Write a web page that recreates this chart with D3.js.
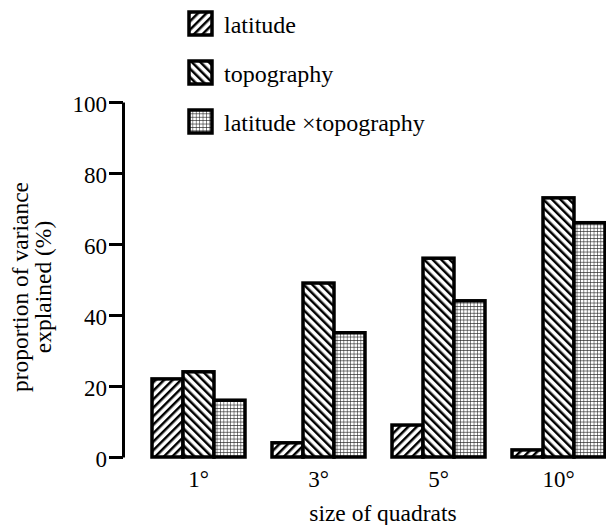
<!DOCTYPE html>
<html lang="en">
<head>
<meta charset="UTF-8">
<title>variance by quadrat size</title>
<style>
  body { margin: 0; background: #fff; }
</style>
</head>
<body>
<svg width="606" height="525"></svg>
<script src="https://d3js.org/d3.v7.min.js"></script>
<script>
// data
var categories = ['1°', '3°', '5°', '10°'];
var seriesNames = ['latitude', 'topography', 'latitude ×topography'];
var latitude = [22, 4, 9, 2];
var topography = [24, 49, 56, 73];
var interaction = [16, 35, 44, 66];
var yTicks = [0, 20, 40, 60, 80, 100];

var seriesValues = [latitude, topography, interaction];
var patternIds = ['pLat', 'pTopo', 'pGrid'];
var serif = 'Liberation Serif, Times New Roman, DejaVu Serif, serif';
var fs = 23;

const svg = d3.select('svg');

// hatch patterns
const defs = svg.append('defs');
function stripes(id, angle) {
  const p = defs.append('pattern')
    .attr('id', id)
    .attr('patternUnits', 'userSpaceOnUse')
    .attr('width', 6).attr('height', 6)
    .attr('patternTransform', `rotate(${angle})`);
  p.append('rect').attr('width', 6).attr('height', 6).attr('fill', '#fff');
  p.append('line').attr('x1', 0).attr('y1', 0).attr('x2', 0).attr('y2', 6)
    .attr('stroke', '#000').attr('stroke-width', 5);
}
stripes('pLat', 45);
stripes('pTopo', -45);
const grid = defs.append('pattern')
  .attr('id', 'pGrid')
  .attr('patternUnits', 'userSpaceOnUse')
  .attr('width', 3.4).attr('height', 3.4);
grid.append('rect').attr('width', 3.4).attr('height', 3.4).attr('fill', '#fff');
grid.append('path').attr('d', 'M0,0V3.4M0,0H3.4')
  .attr('stroke', '#222').attr('stroke-width', 1.1);

const x0 = d3.scaleBand()
  .domain(categories)
  .range([138.5, 618.5])
  .paddingInner(0.225)
  .paddingOuter(0.1125);

const x1 = d3.scaleBand()
  .domain(d3.range(seriesNames.length))
  .range([0, x0.bandwidth()]);

const y = d3.scaleLinear()
  .domain([0, 100])
  .range([457, 102]);

// bars
const groups = svg.append('g').selectAll('g')
  .data(categories)
  .join('g')
  .attr('transform', d => `translate(${x0(d)},0)`);

groups.selectAll('rect')
  .data((d, i) => seriesValues.map((s, k) => ({k: k, v: s[i]})))
  .join('rect')
  .attr('x', d => x1(d.k))
  .attr('width', x1.bandwidth())
  .attr('y', d => y(d.v))
  .attr('height', d => y(0) - y(d.v))
  .attr('fill', d => `url(#${patternIds[d.k]})`)
  .attr('stroke', '#000')
  .attr('stroke-width', 3.5);

// y axis
const yAxis = d3.axisLeft(y)
  .tickValues(yTicks)
  .tickSize(14)
  .tickSizeOuter(0)
  .tickPadding(2);

const yg = svg.append('g')
  .attr('transform', 'translate(123,0)')
  .call(yAxis)
  .attr('font-family', serif)
  .attr('font-size', fs);
yg.select('.domain').attr('stroke-width', 3);
yg.selectAll('.tick line').attr('stroke-width', 3);
yg.selectAll('.tick text').attr('dy', '0.4em');

// x axis (labels only)
const xAxis = d3.axisBottom(x0).tickSize(0).tickPadding(12);
const xg = svg.append('g')
  .attr('transform', 'translate(0,459)')
  .call(xAxis)
  .attr('font-family', serif)
  .attr('font-size', fs);
xg.select('.domain').remove();

// axis titles
svg.append('text')
  .attr('x', 383).attr('y', 521)
  .attr('text-anchor', 'middle')
  .attr('font-family', serif)
  .attr('font-size', 23.5)
  .text('size of quadrats');

const yt = svg.append('text')
  .attr('transform', 'translate(0,287) rotate(-90)')
  .attr('text-anchor', 'middle')
  .attr('font-family', serif)
  .attr('font-size', 23.5);
yt.append('tspan').attr('x', 0).attr('y', 28).text('proportion of variance');
yt.append('tspan').attr('x', 0).attr('y', 51).text('explained (%)');

// legend
const legend = svg.append('g').selectAll('g')
  .data(seriesNames)
  .join('g')
  .attr('transform', (d, i) => `translate(189,${12 + i * 49})`);
legend.append('rect')
  .attr('width', 23).attr('height', 23)
  .attr('fill', (d, i) => `url(#${patternIds[i]})`)
  .attr('stroke', '#000')
  .attr('stroke-width', 3.5);
legend.append('text')
  .attr('x', 35).attr('y', 21)
  .attr('font-family', serif)
  .attr('font-size', 24)
  .text(d => d);
</script>
</body>
</html>
